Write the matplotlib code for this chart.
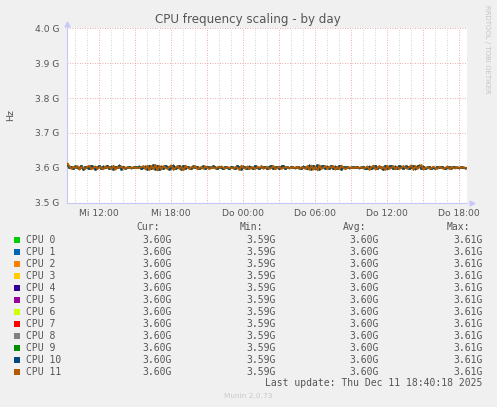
import numpy as np
import matplotlib
matplotlib.use("Agg")
import matplotlib.pyplot as plt
from matplotlib.patches import Rectangle

# ---------------- data ----------------
cpu_names = ["CPU 0", "CPU 1", "CPU 2", "CPU 3", "CPU 4", "CPU 5",
             "CPU 6", "CPU 7", "CPU 8", "CPU 9", "CPU 10", "CPU 11"]
cpu_colors = ["#00CC00", "#0066B3", "#FF8000", "#FFCC00", "#330099", "#990099",
              "#CCFF00", "#FF0000", "#808080", "#008F00", "#00487D", "#B35A00"]

legend_cur = ["3.60G"] * 12
legend_min = ["3.59G"] * 12
legend_avg = ["3.60G"] * 12
legend_max = ["3.61G"] * 12

# 10-minute samples (MHz), starting Wed 09:24
start_hour = 9.4
step_hours = 1.0 / 6.0

cpu11_mhz = [
    3612, 3604, 3597, 3602, 3600, 3605, 3595, 3602, 3600, 3597,
    3603, 3606, 3596, 3600, 3604, 3597, 3602, 3600, 3596, 3604,
    3600, 3602, 3597, 3606, 3595, 3602, 3600, 3604, 3598, 3600,
    3601, 3600, 3600, 3601, 3600, 3599, 3600, 3602, 3605, 3596,
    3606, 3594, 3605, 3597, 3608, 3593, 3606, 3596, 3605, 3600,
    3597, 3603, 3607, 3594, 3600, 3605, 3597, 3603, 3593, 3606,
    3600, 3597, 3602, 3600, 3605, 3596, 3600, 3602, 3597, 3604,
    3600, 3596, 3602, 3600, 3598, 3602, 3600, 3604, 3600, 3598,
    3602, 3600, 3600, 3598, 3602, 3600, 3594, 3606, 3600, 3597,
    3604, 3596, 3602, 3600, 3597, 3603, 3600, 3605, 3597, 3600,
    3602, 3597, 3600, 3605, 3596, 3600, 3603, 3597, 3600, 3602,
    3600, 3600, 3599, 3601, 3600, 3603, 3596, 3602, 3600, 3597,
    3605, 3594, 3606, 3595, 3603, 3593, 3607, 3597, 3600, 3605,
    3597, 3603, 3600, 3605, 3595, 3602, 3597, 3606, 3600, 3596,
    3600, 3601, 3600, 3599, 3601, 3600, 3600, 3602, 3598, 3600,
    3604, 3594, 3602, 3606, 3595, 3600, 3605, 3597, 3603, 3594,
    3606, 3597, 3600, 3605, 3596, 3603, 3597, 3600, 3605, 3600,
    3597, 3603, 3607, 3594, 3605, 3597, 3603, 3608, 3595, 3600,
    3602, 3597, 3600, 3603, 3600, 3597, 3603, 3600, 3597, 3600,
    3604, 3596, 3602, 3600, 3598, 3602, 3600, 3600, 3601, 3600,
]

cpu_other_mhz = [
    3609, 3600, 3602, 3597, 3604, 3600, 3597, 3605, 3595, 3602,
    3600, 3597, 3605, 3602, 3595, 3600, 3605, 3597, 3603, 3600,
    3605, 3597, 3603, 3595, 3602, 3600, 3606, 3595, 3602, 3598,
    3600, 3602, 3599, 3600, 3601, 3600, 3603, 3597, 3600, 3603,
    3595, 3605, 3597, 3607, 3595, 3605, 3594, 3603, 3597, 3605,
    3602, 3595, 3600, 3606, 3597, 3600, 3605, 3595, 3605, 3597,
    3602, 3600, 3597, 3604, 3600, 3602, 3597, 3600, 3604, 3597,
    3602, 3600, 3600, 3604, 3600, 3597, 3602, 3600, 3597, 3602,
    3600, 3597, 3602, 3600, 3597, 3605, 3600, 3595, 3603, 3600,
    3597, 3603, 3600, 3597, 3605, 3600, 3597, 3603, 3600, 3602,
    3597, 3602, 3605, 3597, 3600, 3602, 3597, 3603, 3605, 3597,
    3601, 3599, 3601, 3600, 3599, 3602, 3600, 3597, 3603, 3600,
    3597, 3606, 3595, 3605, 3597, 3607, 3595, 3603, 3605, 3597,
    3603, 3597, 3605, 3597, 3603, 3597, 3605, 3595, 3602, 3600,
    3601, 3599, 3600, 3601, 3600, 3601, 3599, 3600, 3602, 3597,
    3597, 3603, 3597, 3600, 3605, 3597, 3603, 3600, 3595, 3605,
    3597, 3603, 3605, 3597, 3603, 3597, 3605, 3602, 3597, 3603,
    3603, 3597, 3600, 3605, 3596, 3603, 3606, 3597, 3603, 3597,
    3600, 3602, 3597, 3600, 3598, 3602, 3600, 3602, 3600, 3597,
    3600, 3602, 3598, 3602, 3600, 3600, 3599, 3601, 3600, 3599,
]

x_tick_hours = [12, 18, 24, 30, 36, 42]
x_tick_labels = ["Mi 12:00", "Mi 18:00", "Do 00:00", "Do 06:00", "Do 12:00", "Do 18:00"]
y_ticks_ghz = [3.5, 3.6, 3.7, 3.8, 3.9, 4.0]
y_tick_labels = ["3.5 G", "3.6 G", "3.7 G", "3.8 G", "3.9 G", "4.0 G"]
x_min_hour, x_max_hour = 9.333, 42.667

# ---------------- figure ----------------
W, H = 497, 407
fig = plt.figure(figsize=(W / 100, H / 100), dpi=100, facecolor="#F0F0F0")

def fx(px):
    return px / W

def fy(py):
    return 1 - py / H

ax_l, ax_r, ax_t, ax_b = 66.7, 466.7, 28.3, 202.7
ax = fig.add_axes([fx(ax_l), fy(ax_b), (ax_r - ax_l) / W, (ax_b - ax_t) / H])
ax.set_facecolor("white")
ax.set_xlim(x_min_hour, x_max_hour)
ax.set_ylim(3.5, 4.0)

# grid
for h in range(10, 43):
    if h % 3 == 0:
        ax.axvline(h, color="#E09090", lw=0.6, ls=(0, (1, 2)), zorder=1)
    else:
        ax.axvline(h, color="#C4C4C4", lw=0.6, ls=(0, (1, 2)), zorder=1)
for yv in y_ticks_ghz[1:]:
    ax.axhline(yv, color="#E09090", lw=0.6, ls=(0, (1, 2)), zorder=1)

times = start_hour + np.arange(len(cpu11_mhz)) * step_hours
other = np.array(cpu_other_mhz) / 1000.0
for i, (name, col) in enumerate(zip(cpu_names, cpu_colors)):
    vals = np.array(cpu11_mhz) / 1000.0 if i == 11 else other
    ax.plot(times, vals, color=col, lw=1.4, zorder=2 + i)

for s in ["top", "right"]:
    ax.spines[s].set_visible(False)
for s in ["left", "bottom"]:
    ax.spines[s].set_color("#C8C8F8")
    ax.spines[s].set_linewidth(0.8)

ax.set_xticks(x_tick_hours)
ax.set_xticklabels(x_tick_labels)
ax.set_yticks(y_ticks_ghz)
ax.set_yticklabels(y_tick_labels)
ax.tick_params(axis="both", length=0, labelsize=6.6, colors="#555555")
ax.tick_params(axis="x", pad=4.5)
ax.tick_params(axis="y", pad=5.5)

# axis arrows
ax.plot([0], [1.025], marker="^", ms=3.5, color="#C8C8F8", transform=ax.transAxes, clip_on=False)
ax.plot([1.013], [0], marker=">", ms=3.5, color="#C8C8F8", transform=ax.transAxes, clip_on=False)

# texts
fig.text(fx(248), fy(19), "CPU frequency scaling - by day", ha="center", va="center",
         fontsize=8.6, color="#555555")
fig.text(fx(11), fy(115), "Hz", rotation=90, ha="center", va="center", fontsize=6.8, color="#555555")
fig.text(fx(487), fy(5), "RRDTOOL / TOBI OETIKER", rotation=270, ha="center", va="top",
         fontsize=5.0, color="#C4C4C4")

mono = dict(family="DejaVu Sans Mono", fontsize=7.0, color="#555555", va="center")
hdr_y = 227.3
fig.text(fx(136.7), fy(hdr_y), "Cur:", ha="left", **mono)
fig.text(fx(240), fy(hdr_y), "Min:", ha="left", **mono)
fig.text(fx(343.3), fy(hdr_y), "Avg:", ha="left", **mono)
fig.text(fx(446.7), fy(hdr_y), "Max:", ha="left", **mono)

for i, (name, col) in enumerate(zip(cpu_names, cpu_colors)):
    yy = 240 + i * 12
    fig.patches.append(Rectangle((fx(14), fy(yy + 3)), 6 / W, 6 / H, transform=fig.transFigure,
                                 facecolor=col, edgecolor="none"))
    fig.text(fx(26.3), fy(yy), name, ha="left", **mono)
    fig.text(fx(171.7), fy(yy), legend_cur[i], ha="right", **mono)
    fig.text(fx(276), fy(yy), legend_min[i], ha="right", **mono)
    fig.text(fx(379), fy(yy), legend_avg[i], ha="right", **mono)
    fig.text(fx(482.7), fy(yy), legend_max[i], ha="right", **mono)

fig.text(fx(482.7), fy(383.3), "Last update: Thu Dec 11 18:40:18 2025", ha="right", **mono)
fig.text(fx(248), fy(396), "Munin 2.0.73", ha="center", va="center", fontsize=5.3, color="#C8C8C8")

fig.savefig("out.png", dpi=100, facecolor=fig.get_facecolor())
